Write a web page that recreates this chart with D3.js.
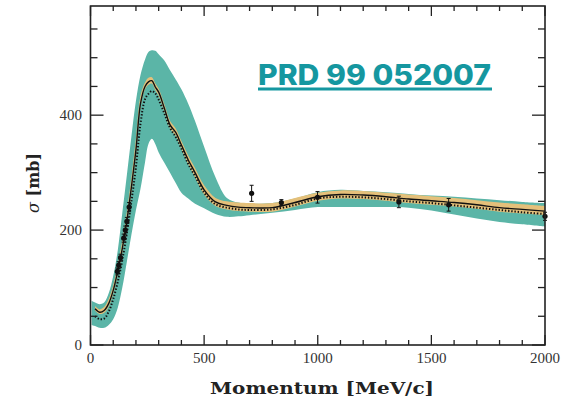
<!DOCTYPE html>
<html><head><meta charset="utf-8">
<script src="https://cdn.jsdelivr.net/npm/d3@7"></script>
<style>body{margin:0;background:#fff}svg{display:block}</style>
</head><body>
<svg id="c" width="564" height="399"></svg>
<script>
// momentum grid (MeV/c)
const momentum = [5, 20, 40, 60, 80, 100, 120, 140, 160, 180, 200, 220, 240, 255, 270, 285, 300, 325, 350, 375, 400, 430, 460, 500, 550, 600, 650, 700, 800, 900, 1000, 1100, 1200, 1300, 1400, 1500, 1600, 1700, 1800, 1900, 2000];
const central = [null, 63, 57, 60, 72, 95, 129, 168, 216, 275, 340, 420, 450, 458, 460, 449, 440, 412, 383, 370, 348, 322, 300, 270, 249, 243, 240, 239, 239, 248, 258, 262, 261, 258, 254, 251, 248, 244, 239, 236, 233];
const dotted = [null, 50, 45, 46, 58, 80, 110, 148, 195, 250, 310, 385, 428, 437, 442, 438, 427, 403, 378, 362, 342, 315, 294, 265, 245, 239, 236, 235, 236, 244, 255, 258, 257, 254, 250, 247, 243, 239, 235, 231, 228];
const tealHi = [77, 74, 71, 74, 90, 120, 165, 230, 296, 363, 425, 470, 497, 510, 513, 512, 506, 495, 478, 462, 445, 420, 390, 345, 292, 256, 248, 246, 247, 255, 266, 270, 268, 266, 263, 260, 258, 255, 252, 249, 247];
const tealLo = [35, 33, 30, 30, 35, 45, 65, 100, 145, 192, 235, 272, 318, 350, 359, 350, 335, 317, 300, 282, 265, 255, 246, 238, 228, 223, 224, 226, 230, 235, 240, 240, 240, 240, 239, 234, 227, 220, 214, 210, 206];
const orangeHi = [null, 68, 62, 66, 80, 104, 140, 182, 232, 292, 360, 434, 457, 465, 466, 455, 446, 419, 390, 377, 355, 330, 308, 278, 256, 250, 248, 247, 247, 256, 265, 269, 268, 265, 262, 259, 256, 252, 248, 245, 242];
const orangeLo = [null, 60, 54, 56, 67, 89, 122, 160, 207, 264, 328, 412, 445, 453, 455, 444, 434, 406, 377, 364, 341, 315, 292, 262, 242, 236, 233, 232, 232, 241, 251, 255, 254, 251, 247, 244, 241, 237, 232, 229, 226];
// data points
const dataP = [118, 124, 132, 146, 153, 160, 170, 709, 840, 999, 1357, 1576, 2000];
const dataS = [128, 139, 152, 186, 200, 215, 240, 264, 248, 257, 249, 244, 224];
const dataE = [6, 6, 6, 7, 7, 7, 8, 14, 5, 10, 10, 11, 7];
const xTicks = [0, 500, 1000, 1500, 2000];
const yTicks = [0, 200, 400];

const svg = d3.select("#c");
const L = 90.5, R = 545, T = 6, B = 345;
const x = d3.scaleLinear().domain([0, 2000]).range([L, R]);
const y = d3.scaleLinear().domain([0, 590]).range([B, T]);

svg.append("clipPath").attr("id", "clip").append("rect")
  .attr("x", L).attr("y", T).attr("width", R - L).attr("height", B - T);
const g = svg.append("g").attr("clip-path", "url(#clip)");

const rows = momentum.map((p, i) => ({p, c: central[i], d: dotted[i], th: tealHi[i], tl: tealLo[i], oh: orangeHi[i], ol: orangeLo[i]}));
const curve = d3.curveCatmullRom.alpha(0.5);

g.append("path").datum(rows)
  .attr("d", d3.area().x(r => x(r.p)).y0(r => y(r.tl)).y1(r => y(r.th)).curve(curve))
  .attr("fill", "#5bb5a7");
g.append("path").datum(rows)
  .attr("d", d3.area().defined(r => r.oh != null).x(r => x(r.p)).y0(r => y(r.ol)).y1(r => y(r.oh)).curve(curve))
  .attr("fill", "#e4c07a");
g.append("path").datum(rows)
  .attr("d", d3.line().defined(r => r.d != null).x(r => x(r.p)).y(r => y(r.d)).curve(curve))
  .attr("fill", "none").attr("stroke", "#111").attr("stroke-width", 2).attr("stroke-dasharray", "1.4,1.8");
g.append("path").datum(rows)
  .attr("d", d3.line().defined(r => r.c != null).x(r => x(r.p)).y(r => y(r.c)).curve(curve))
  .attr("fill", "none").attr("stroke", "#111").attr("stroke-width", 1.4);

// data points with error bars
const pts = dataP.map((p, i) => ({p, s: dataS[i], e: dataE[i]}));
const pg = svg.append("g");
pts.forEach(d => {
  const cx = x(d.p), y1 = y(d.s + d.e), y2 = y(d.s - d.e);
  pg.append("line").attr("x1", cx).attr("x2", cx).attr("y1", y1).attr("y2", y2).attr("stroke", "#111").attr("stroke-width", 1);
  pg.append("line").attr("x1", cx - 2).attr("x2", cx + 2).attr("y1", y1).attr("y2", y1).attr("stroke", "#111").attr("stroke-width", 1);
  pg.append("line").attr("x1", cx - 2).attr("x2", cx + 2).attr("y1", y2).attr("y2", y2).attr("stroke", "#111").attr("stroke-width", 1);
  pg.append("circle").attr("cx", cx).attr("cy", y(d.s)).attr("r", 2.6).attr("fill", "#111");
});

// frame
svg.append("rect").attr("x", L).attr("y", T).attr("width", R - L).attr("height", B - T)
  .attr("fill", "none").attr("stroke", "#222").attr("stroke-width", 1.6);

// ticks (inward, all four sides)
const xMinor = d3.range(0, 2001, 100);
const yMinor = d3.range(0, 591, 50);
const tk = svg.append("g").attr("stroke", "#222").attr("stroke-width", 1.3);
xMinor.forEach(v => {
  const len = v % 500 === 0 ? 10 : 5;
  tk.append("line").attr("x1", x(v)).attr("x2", x(v)).attr("y1", B).attr("y2", B - len);
  tk.append("line").attr("x1", x(v)).attr("x2", x(v)).attr("y1", T).attr("y2", T + len);
});
yMinor.forEach(v => {
  const len = v % 200 === 0 ? 13 : 7;
  tk.append("line").attr("x1", L).attr("x2", L + len).attr("y1", y(v)).attr("y2", y(v));
  tk.append("line").attr("x1", R).attr("x2", R - len).attr("y1", y(v)).attr("y2", y(v));
});

const tf = "'Liberation Serif', 'DejaVu Serif', serif";
svg.append("g").selectAll("text").data(xTicks).join("text")
  .attr("x", d => x(d)).attr("y", 363).attr("text-anchor", "middle")
  .attr("font-family", tf).attr("font-size", 15).attr("fill", "#333").text(d => d);
svg.append("g").selectAll("text").data(yTicks).join("text")
  .attr("x", 82).attr("y", d => y(d) + 5).attr("text-anchor", "end")
  .attr("font-family", tf).attr("font-size", 15).attr("fill", "#333").text(d => d);

svg.append("text").attr("x", 210).attr("y", 394)
  .attr("font-family", "'DejaVu Serif', serif").attr("font-weight", "bold").attr("font-size", 17)
  .attr("textLength", 224).attr("lengthAdjust", "spacingAndGlyphs").attr("fill", "#222")
  .text("Momentum [MeV/c]");

const yl = svg.append("text").attr("transform", "translate(39,213) rotate(-90)")
  .attr("font-family", "'DejaVu Serif', serif").attr("font-size", 17).attr("fill", "#222")
  .attr("textLength", 60).attr("lengthAdjust", "spacingAndGlyphs");
yl.append("tspan").attr("font-style", "italic").text("σ");
yl.append("tspan").attr("font-weight", "bold").text(" [mb]");

// reference label
svg.append("text").attr("x", 258).attr("y", 85)
  .attr("font-family", "Inter, 'Open Sans', sans-serif").attr("font-weight", 800).attr("font-size", 29)
  .attr("textLength", 233).attr("lengthAdjust", "spacingAndGlyphs").attr("fill", "#1597a0")
  .text("PRD 99 052007");
svg.append("rect").attr("x", 258).attr("y", 87.5).attr("width", 234).attr("height", 3).attr("fill", "#1597a0");
</script>
</body></html>
